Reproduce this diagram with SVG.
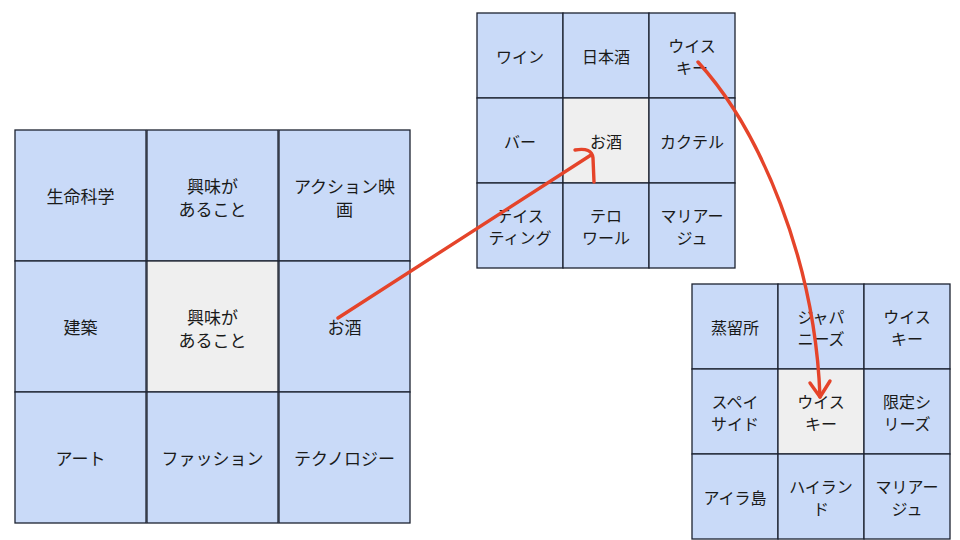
<svg xmlns="http://www.w3.org/2000/svg" width="960" height="540" viewBox="0 0 960 540">
<style>
.c{fill:#c9daf8;stroke:#1c2230;stroke-width:1.3}
.m{fill:#efefef;stroke:#1c2230;stroke-width:1.3}
text{font-family:"Noto Sans CJK JP","Liberation Sans",sans-serif;font-size:16px;fill:#1a1a1a;text-anchor:middle;dominant-baseline:central}
#grid-main text{font-size:17px}
.a{fill:none;stroke:#e5442a;stroke-width:3.4;stroke-linecap:round;stroke-linejoin:round}
</style>
<rect width="960" height="540" fill="#fff"/>
<g id="grid-main">
<g id="m1"><rect class="c" x="15" y="130" width="131" height="131"/><text x="80.5" y="195.5">生命科学</text></g>
<g id="m2"><rect class="c" x="147" y="130" width="131" height="131"/><text x="212.5" y="185">興味が</text><text x="212.5" y="208">あること</text></g>
<g id="m3"><rect class="c" x="279" y="130" width="131" height="131"/><text x="344.5" y="185">アクション映</text><text x="344.5" y="208">画</text></g>
<g id="m4"><rect class="c" x="15" y="261" width="131" height="131"/><text x="80.5" y="326.5">建築</text></g>
<g id="m5"><rect class="m" x="147" y="261" width="131" height="131"/><text x="212.5" y="316">興味が</text><text x="212.5" y="339">あること</text></g>
<g id="m6"><rect class="c" x="279" y="261" width="131" height="131"/><text x="344.5" y="326.5">お酒</text></g>
<g id="m7"><rect class="c" x="15" y="392" width="131" height="131"/><text x="80.5" y="457.5">アート</text></g>
<g id="m8"><rect class="c" x="147" y="392" width="131" height="131"/><text x="212.5" y="457.5">ファッション</text></g>
<g id="m9"><rect class="c" x="279" y="392" width="131" height="131"/><text x="344.5" y="457.5">テクノロジー</text></g>
</g>
<g id="grid-sake">
<g id="s1"><rect class="c" x="477" y="13" width="86" height="85"/><text x="520" y="55.5">ワイン</text></g>
<g id="s2"><rect class="c" x="563" y="13" width="86" height="85"/><text x="606" y="55.5">日本酒</text></g>
<g id="s3"><rect class="c" x="649" y="13" width="86" height="85"/><text x="692" y="45">ウイス</text><text x="692" y="67">キー</text></g>
<g id="s4"><rect class="c" x="477" y="98" width="86" height="85"/><text x="520" y="140.5">バー</text></g>
<g id="s5"><rect class="m" x="563" y="98" width="86" height="85"/><text x="606" y="140.5">お酒</text></g>
<g id="s6"><rect class="c" x="649" y="98" width="86" height="85"/><text x="692" y="140.5">カクテル</text></g>
<g id="s7"><rect class="c" x="477" y="183" width="86" height="85"/><text x="520" y="215">テイス</text><text x="520" y="237">ティング</text></g>
<g id="s8"><rect class="c" x="563" y="183" width="86" height="85"/><text x="606" y="215">テロ</text><text x="606" y="237">ワール</text></g>
<g id="s9"><rect class="c" x="649" y="183" width="86" height="85"/><text x="692" y="215">マリアー</text><text x="692" y="237">ジュ</text></g>
</g>
<g id="grid-whisky">
<g id="w1"><rect class="c" x="692" y="284" width="86" height="85"/><text x="735" y="326.5">蒸留所</text></g>
<g id="w2"><rect class="c" x="778" y="284" width="86" height="85"/><text x="821" y="316">ジャパ</text><text x="821" y="338">ニーズ</text></g>
<g id="w3"><rect class="c" x="864" y="284" width="86" height="85"/><text x="907" y="316">ウイス</text><text x="907" y="338">キー</text></g>
<g id="w4"><rect class="c" x="692" y="369" width="86" height="85"/><text x="735" y="401">スペイ</text><text x="735" y="423">サイド</text></g>
<g id="w5"><rect class="m" x="778" y="369" width="86" height="85"/><text x="821" y="401">ウイス</text><text x="821" y="423">キー</text></g>
<g id="w6"><rect class="c" x="864" y="369" width="86" height="85"/><text x="907" y="401">限定シ</text><text x="907" y="423">リーズ</text></g>
<g id="w7"><rect class="c" x="692" y="454" width="86" height="85"/><text x="735" y="496.5">アイラ島</text></g>
<g id="w8"><rect class="c" x="778" y="454" width="86" height="85"/><text x="821" y="486">ハイラン</text><text x="821" y="508">ド</text></g>
<g id="w9"><rect class="c" x="864" y="454" width="86" height="85"/><text x="907" y="486">マリアー</text><text x="907" y="508">ジュ</text></g>
</g>
<g id="connectors">
<path class="a" d="M338,318 L591,155"/>
<path class="a" d="M575,150 Q592,147 593,158 L594,182"/>
<path class="a" d="M698,62 C760,130 815,260 820,397"/>
<path class="a" d="M810,383 L820,397 L830,381"/>
</g>
</svg>
